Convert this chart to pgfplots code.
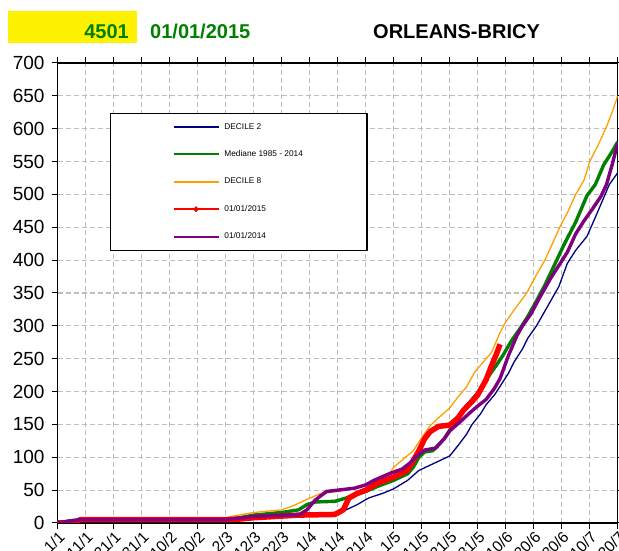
\documentclass[border=0pt]{standalone}
\usepackage{fontspec}
\setmainfont{Liberation Sans}
\usepackage{pgfplots}
\pgfplotsset{compat=1.18}
\definecolor{dnavy}{RGB}{0,0,128}
\definecolor{dgreen}{RGB}{0,128,0}
\definecolor{dorange}{RGB}{255,160,0}
\definecolor{dpurple}{RGB}{128,0,128}
\definecolor{dred}{RGB}{255,0,0}
\definecolor{gridgray}{RGB}{190,190,190}
\begin{document}
\begin{tikzpicture}
\begin{axis}[
  at={(0pt,0pt)}, anchor=south west,
  scale only axis, width=560pt, height=460pt,
  xmin=0, xmax=200, ymin=0, ymax=700,
  xtick={0,10,...,200},
  xticklabels={1/1,11/1,21/1,31/1,10/2,20/2,2/3,12/3,22/3,1/4,11/4,21/4,1/5,11/5,21/5,31/5,10/6,20/6,30/6,10/7,20/7},
  ytick={0,50,...,700},
  /pgf/number format/assume math mode=true,
  tick align=outside, major tick length=6pt,
  tick style={black, line width=1pt},
  axis line style={black, line width=1.5pt},
  grid=major,
  major grid style={gridgray, line width=1.2pt, dash pattern=on 5pt off 3pt},
  yticklabel style={font=\fontsize{19}{21}\selectfont, anchor=east, inner sep=0pt, xshift=-7pt},
  xticklabel style={font=\fontsize{15.5}{17}\selectfont, rotate=45, anchor=north east, inner sep=1pt},
  legend cell align=left,
  legend style={at={(0.0934,0.892)}, anchor=north west, draw=black, line width=1.3pt, fill=white,
    inner xsep=62pt, inner ysep=8pt, row sep=16pt,
    font=\fontsize{8.3}{9}\selectfont,
    /tikz/every odd column/.append style={column sep=3pt}},
  legend image code/.code={\draw[line width=1.8pt] (0pt,0pt) -- (45pt,0pt);},
  line join=round,
]
% DECILE 2
\addplot[dnavy, line width=1.3pt] coordinates {
(0,0)(4,3)(8,5)(60,5)(70,8)(80,10)(90,12)(98,15)(103,20)(107,28)(111,38)(116,45)(120,52)(125,65)(129,80)(132,86)(135,92)(138,98)(140,102)(143,118)(146,135)(148,150)(151,166)(153,180)(156,195)(158,208)(161,228)(163,245)(166,265)(168,282)(171,300)(175,330)(179,360)(182,395)(185,415)(189,436)(192,465)(194,485)(197,515)(200,533)};
\addlegendentry{DECILE 2}
% Mediane
\addplot[dgreen, line width=3.4pt] coordinates {
(0,0)(4,3)(8,5)(60,5)(65,8)(70,12)(80,16)(86,20)(89,28)(92,32)(99,33)(103,38)(110,48)(115,57)(120,65)(125,75)(127,85)(129,100)(131,108)(134,110)(138,128)(141,148)(144,167)(147,183)(150,198)(153,218)(156,236)(159,255)(162,277)(165,295)(168,315)(171,338)(174,362)(178,398)(181,425)(185,458)(189,498)(192,515)(195,545)(198,565)(200,580)};
\addlegendentry{Mediane  1985 - 2014}
% DECILE 8
\addplot[dorange, line width=1.3pt] coordinates {
(0,0)(4,3)(8,5)(58,6)(62,10)(70,16)(80,20)(84,26)(89,36)(94,45)(100,48)(104,51)(110,58)(114,64)(118,72)(120,85)(122,92)(127,110)(130,130)(133,148)(136,160)(140,175)(143,192)(146,207)(149,230)(152,245)(155,260)(158,290)(160,306)(164,330)(167.5,350)(171,378)(174,400)(177,428)(179.4,451)(182,472)(185,500)(188,522)(190,550)(193,575)(196,603)(198,625)(200,650)};
\addlegendentry{DECILE 8}
% 2015
\addplot[dred, line width=5.5pt,
  legend image code/.code={\draw[line width=1.8pt, mark=diamond*, mark size=2pt, mark indices={2}] plot coordinates {(0pt,0pt)(22.5pt,0pt)(45pt,0pt)};}] coordinates {
(0,0)(6,0)(8,5)(60,5)(65,6)(70,8)(86,12)(99,13)(102,20)(104,38)(107,45)(110,50)(114,60)(117,65)(120,70)(123,76)(125,81)(127,95)(129,110)(131,128)(133,139)(136,147)(140,149)(143,160)(145,172)(148,185)(150,195)(153,218)(155,240)(156.5,255)(158,272)};
\addlegendentry{01/01/2015}
% 2014
\addplot[dpurple, line width=3.4pt] coordinates {
(0,0)(4,3)(8,5)(60,5)(64,7)(70,10)(80,12)(86,12)(89,20)(92,35)(96,48)(100,50)(106,53)(110,58)(113,65)(119,76)(123,82)(126,92)(128,101)(131,111)(135,114)(138,128)(140,140)(144,155)(147,167)(150,178)(153,188)(156,205)(158,220)(161,255)(164,285)(166,300)(169,318)(172,342)(176,372)(179,392)(182,412)(185,440)(188,460)(191,478)(194,497)(196,515)(198,545)(200,578)};
\addlegendentry{01/01/2014}
\end{axis}
\fill[yellow] (-49.7pt,480.4pt) rectangle (79.3pt,512.3pt);
\node[anchor=base east, inner sep=0pt, text=dgreen, font=\fontsize{20}{24}\selectfont\bfseries] at (71.3pt,484.4pt) {4501};
\node[anchor=base west, inner sep=0pt, text=dgreen, font=\fontsize{20}{24}\selectfont\bfseries] at (92.3pt,484.4pt) {01/01/2015};
\node[anchor=base west, inner sep=0pt, text=black, font=\fontsize{20}{24}\selectfont\bfseries] at (315.3pt,484.4pt) {ORLEANS-BRICY};
\pgfresetboundingbox
\useasboundingbox (-57.7pt,-28pt) rectangle (561.3pt,523pt);
\end{tikzpicture}
\end{document}
